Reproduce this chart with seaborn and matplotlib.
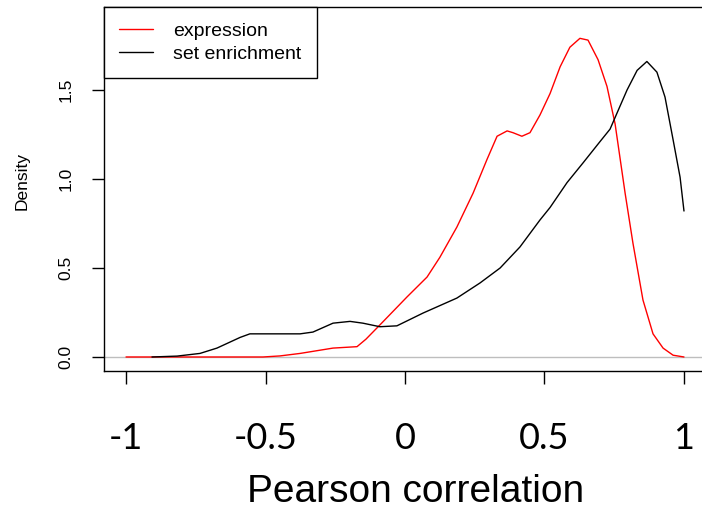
import pandas as pd
import matplotlib
matplotlib.use("Agg")
import matplotlib.pyplot as plt
import seaborn as sns

# --- DATA ---
expr_r = [-1.0, -0.509, -0.448, -0.376, -0.258, -0.172, -0.14, -0.09, 0.007, 0.079,
          0.125, 0.186, 0.244, 0.294, 0.330, 0.366, 0.387, 0.419, 0.448, 0.484,
          0.520, 0.556, 0.591, 0.627, 0.656, 0.692, 0.724, 0.753, 0.789, 0.817,
          0.853, 0.889, 0.925, 0.961, 1.0]
expr_d = [0.0, 0.0, 0.006, 0.02, 0.05, 0.058, 0.10, 0.18, 0.337, 0.449,
          0.56, 0.73, 0.92, 1.11, 1.24, 1.27, 1.26, 1.24, 1.26, 1.36,
          1.48, 1.63, 1.74, 1.79, 1.78, 1.67, 1.52, 1.31, 0.92, 0.64,
          0.32, 0.13, 0.05, 0.01, 0.0]

gs_r = [-0.907, -0.817, -0.735, -0.674, -0.591, -0.556, -0.376, -0.330, -0.258, -0.197,
        -0.151, -0.090, -0.029, 0.065, 0.186, 0.269, 0.341, 0.412, 0.484, 0.520,
        0.581, 0.638, 0.699, 0.735, 0.771, 0.796, 0.832, 0.867, 0.903, 0.932,
        0.961, 0.986, 1.0]
gs_d = [0.0, 0.005, 0.02, 0.05, 0.11, 0.13, 0.13, 0.14, 0.19, 0.20,
        0.19, 0.17, 0.175, 0.247, 0.331, 0.416, 0.50, 0.618, 0.77, 0.84,
        0.98, 1.09, 1.21, 1.28, 1.41, 1.50, 1.61, 1.66, 1.60, 1.46,
        1.22, 1.01, 0.82]

series_names = ["expression", "set enrichment"]
series_colors = ["#FF0000", "#000000"]
x_ticks = [-1, -0.5, 0, 0.5, 1]
x_tick_labels = ["-1", "-0.5", "0", "0.5", "1"]
y_ticks = [0.0, 0.5, 1.0, 1.5]
y_tick_labels = ["0.0", "0.5", "1.0", "1.5"]

df = pd.concat([
    pd.DataFrame({"r": expr_r, "density": expr_d, "series": series_names[0]}),
    pd.DataFrame({"r": gs_r, "density": gs_d, "series": series_names[1]}),
])

# --- STYLE ---
sns.set_style("white")
plt.rcParams["font.family"] = ["Liberation Sans", "DejaVu Sans"]
plt.rcParams["text.color"] = "black"
plt.rcParams["axes.labelcolor"] = "black"
plt.rcParams["xtick.color"] = "black"
plt.rcParams["ytick.color"] = "black"

fig = plt.figure(figsize=(7.02, 5.15), dpi=100, facecolor="white")
ax = fig.add_axes([103.7 / 702, 1 - 371 / 515, 602.6 / 702, 364 / 515])

ax.axhline(0, color="#BEBEBE", lw=1.0, zorder=1)
sns.lineplot(data=df, x="r", y="density", hue="series", hue_order=series_names,
             palette=series_colors, sort=False, estimator=None, linewidth=1.0,
             ax=ax, zorder=2)

ax.set_xlim(-1.08, 1.08)
ax.set_ylim(-0.0787, 1.966)

for s in ax.spines.values():
    s.set_visible(True)
    s.set_color("black")
    s.set_linewidth(1.0)

ax.set_xticks(x_ticks)
ax.set_xticklabels(x_tick_labels, fontfamily=["Lato", "DejaVu Sans"], fontsize=26)
ax.set_yticks(y_ticks)
ax.set_yticklabels(y_tick_labels, fontsize=12.5, rotation=90, va="center")
ax.tick_params(axis="x", direction="out", length=9.5, width=1.0, pad=27, bottom=True)
ax.tick_params(axis="y", direction="out", length=8.6, width=1.0, pad=13, left=True)

ax.set_xlabel("Pearson correlation", fontsize=28)
ax.xaxis.set_label_coords(0.5175, -0.283)
ax.set_ylabel("Density", fontsize=12.5)
ax.yaxis.set_label_coords(-0.123, 0.522)

handles, labels = ax.get_legend_handles_labels()
leg = ax.legend(handles, labels, loc="upper left", bbox_to_anchor=(0, 1),
                borderaxespad=0, fancybox=False, framealpha=1, edgecolor="black",
                fontsize=14, handlelength=1.75, handletextpad=1.05,
                labelspacing=0.3, borderpad=0.78)
leg.get_frame().set_linewidth(1.0)

fig.savefig("out.png", dpi=100)
